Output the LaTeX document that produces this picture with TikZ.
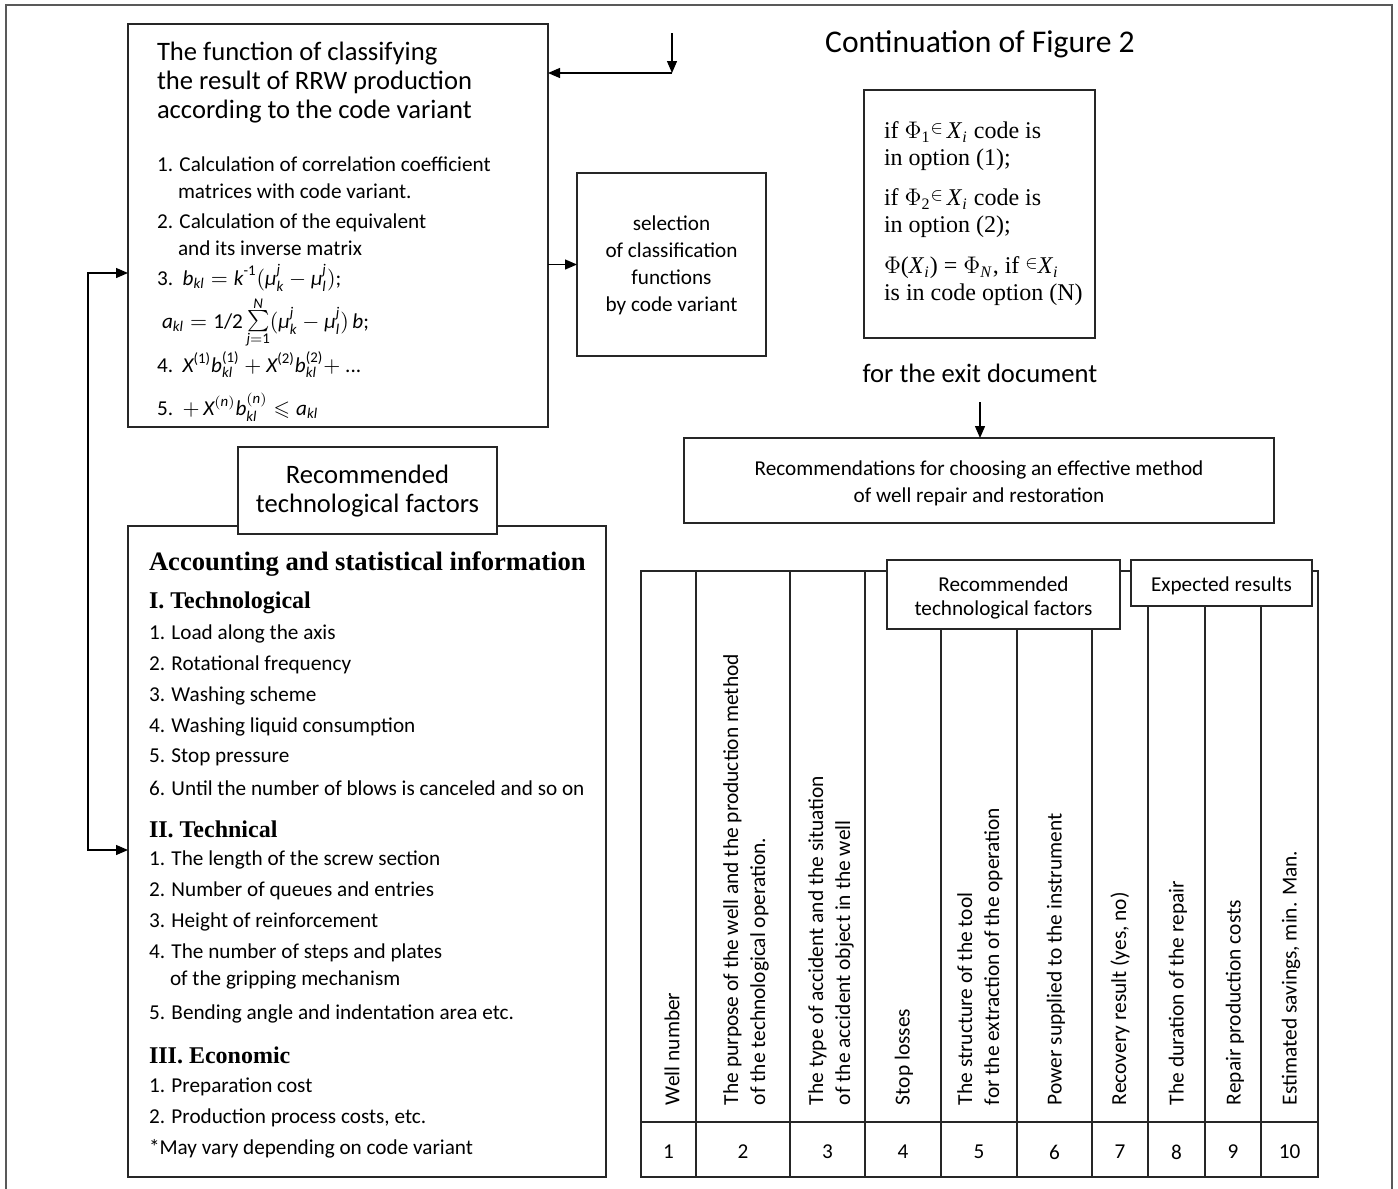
\documentclass[tikz,border=0pt]{standalone}
\usepackage{amsmath,amssymb}
\usepackage{fontspec}
\setmainfont{Carlito}
\newfontfamily\tms{Liberation Serif}
\usetikzlibrary{arrows.meta}
\newcommand\vi[1]{\textit{#1}}
\newcommand\fsz[2]{\fontsize{#1}{#2}\selectfont}
% compact sum with limits stacked tightly
\newcommand\tsum[2]{\mathop{\vcenter{\offinterlineskip\halign{\hfil##\hfil\cr
  $\scriptstyle #2$\cr\noalign{\kern1pt}$\textstyle\sum$\cr\noalign{\kern0.5pt}$\scriptstyle #1$\cr}}}}

\begin{document}
\begin{tikzpicture}[x=0.5pt,y=-0.5pt,
  every node/.style={inner sep=0pt,outer sep=0pt},
  frame/.style={draw=black!85,line width=0.65pt,anchor=north west,fill=white},
  arr/.style={-{Triangle[length=6pt,width=5pt]},line width=0.65pt},
  twoarr/.style={{Triangle[length=6pt,width=5pt]}-{Triangle[length=6pt,width=5pt]},line width=0.65pt},
  big/.style={font=\fsz{13.3}{14.5},yshift=-1pt},
  txt/.style={font=\fsz{10.6}{13.5},yshift=-1pt},
  serif/.style={font=\tms\fsz{12}{13.5},yshift=-1pt},
  hd/.style={font=\tms\bfseries\fsz{13.3}{15},yshift=-1pt},
  sub/.style={font=\tms\bfseries\fsz{12}{14},yshift=-1pt},
  col/.style={font=\fsz{10.7}{13.5},rotate=90,anchor=west,align=left},
  grid/.style={draw=black!85,line width=0.6pt}]
\useasboundingbox (0,0) rectangle (1398,1189);

% page frame, open at the bottom
\draw[draw=black!65,line width=0.9pt] (6,1189) -- (6,5) -- (1392,5) -- (1392,1189);

% classification function block
\node[frame,minimum width=210pt,minimum height=201.5pt] (fc) at (128,24) {};
\node[big,anchor=west,align=left] (fchead) at (157,81)
  {The function of classifying\\the result of RRW production\\according to the code variant};
\node[txt,anchor=west,align=left] (fc1) at (157,176)
  {1. Calculation of correlation coefficient\\\hspace*{10.5pt}matrices with code variant.};
\node[txt,anchor=west,align=left] (fc2) at (157,233)
  {2. Calculation of the equivalent\\\hspace*{10.5pt}and its inverse matrix};
\node[txt,anchor=base west] (fc3) at (157,283)
  {\vtop{\baselineskip=21.5pt\lineskiplimit=-\maxdimen
   \hbox{3.\ \ $\vi{b}_{\vi{kl}} = \vi{k}^{\text{-1}}(\vi{μ}_{\vi{k}}^{\vi{j}} - \vi{μ}_{\vi{l}}^{\vi{j}})$;}
   \hbox{\hspace*{2.5pt}$\vi{a}_{\vi{kl}} = \text{1/2}\tsum{\vi{j}=\text{1}}{\vi{N}}(\vi{μ}_{\vi{k}}^{\vi{j}} - \vi{μ}_{\vi{l}}^{\vi{j}})\,\vi{b}$;}}};
\node[txt,anchor=base west] (fc4) at (157,370)
  {4.\ \ $\vi{X}^{\text{(1)}}\vi{b}_{\vi{kl}}^{\text{(1)}} + \vi{X}^{\text{(2)}}\vi{b}_{\vi{kl}}^{\text{(2)}} +$ ...};
\node[txt,anchor=base west] (fc5) at (157,413)
  {5.\ \ $+\,\vi{X}^{(\vi{n})}\vi{b}_{\vi{kl}}^{(\vi{n})} \leqslant \vi{a}_{\vi{kl}}$};

% incoming flow at the top
\coordinate (topin) at (672,33);
\coordinate (topbend) at (672,73);
\draw[arr] (topin) -- (topbend);
\draw[arr] (topbend) -- (fc.east |- topbend);

% selection block
\node[frame,minimum width=94.5pt,minimum height=91.5pt] (sel) at (577,173) {};
\node[txt,align=center] (seltext) at (671.5,263.5)
  {selection\\of classification\\functions\\by code variant};
\draw[arr] (fc.east |- sel.west) -- (sel.west);

% title
\node[font=\fsz{15.8}{18},yshift=-1pt] (title) at (980,42) {Continuation of Figure 2};

% decision rules
\node[frame,minimum width=115.5pt,minimum height=124pt] (rules) at (864,90) {};
\node[serif,anchor=west,align=left] (r1) at (884,144.5)
  {if $\Phi$\textsubscript{1}\raisebox{2.5pt}{\fsz{9}{9}$\in$}\,\vi{X}\textsubscript{\vi{i}} code is\\in option (1);};
\node[serif,anchor=west,align=left] (r2) at (884,211.5)
  {if $\Phi$\textsubscript{2}\raisebox{2.5pt}{\fsz{9}{9}$\in$}\,\vi{X}\textsubscript{\vi{i}} code is\\in option (2);};
\node[serif,anchor=west,align=left] (r3) at (884,279.5)
  {$\Phi$(\vi{X}\textsubscript{\vi{i}}) = $\Phi$\textsubscript{\vi{N}}, if \raisebox{2.5pt}{\fsz{9}{9}$\in$}\vi{X}\textsubscript{\vi{i}}\\is in code option (N)};

% exit document and recommendations
\node[big] (exitdoc) at (980,371) {for the exit document};
\node[frame,minimum width=295pt,minimum height=42.5pt] (recm) at (684,438) {};
\node[txt,align=center] (recmtext) at (979,481.5)
  {Recommendations for choosing an effective method\\of well repair and restoration};
\coordinate (exitout) at (980,402);
\draw[arr] (exitout) -- (recm.north -| exitout);

% accounting and statistical information
\node[frame,minimum width=239pt,minimum height=325.5pt] (acc) at (128,526) {};
\node[frame,minimum width=129.5pt,minimum height=43.5pt] (factors) at (238,447) {};
\node[big,align=center] (factorstext) at (367.5,489.5) {Recommended\\technological factors};
\node[hd,anchor=west] (acchead) at (149,562) {Accounting and statistical information};
\node[sub,anchor=west] (s1) at (149,601) {I. Technological};
\node[txt,anchor=west] (s1a) at (149,632) {1. Load along the axis};
\node[txt,anchor=west] (s1b) at (149,663) {2. Rotational frequency};
\node[txt,anchor=west] (s1c) at (149,694) {3. Washing scheme};
\node[txt,anchor=west] (s1d) at (149,725) {4. Washing liquid consumption};
\node[txt,anchor=west] (s1e) at (149,755) {5. Stop pressure};
\node[txt,anchor=west] (s1f) at (149,786) {6. Until the number of blows is canceled and so on};
\node[sub,anchor=west] (s2) at (149,827) {II. Technical};
\node[txt,anchor=west] (s2a) at (149,858) {1. The length of the screw section};
\node[txt,anchor=west] (s2b) at (149,889) {2. Number of queues and entries};
\node[txt,anchor=west] (s2c) at (149,920) {3. Height of reinforcement};
\node[txt,anchor=west,align=left] (s2d) at (149,964.5)
  {4. The number of steps and plates\\\hspace*{10.5pt}of the gripping mechanism};
\node[txt,anchor=west] (s2e) at (149,1012) {5. Bending angle and indentation area etc.};
\node[sub,anchor=west] (s3) at (149,1053) {III. Economic};
\node[txt,anchor=west] (s3a) at (149,1085) {1. Preparation cost};
\node[txt,anchor=west] (s3b) at (149,1116) {2. Production process costs, etc.};
\node[txt,anchor=west] (s3c) at (149,1147) {*May vary depending on code variant};

% feedback link between the two left blocks
\coordinate (lk1) at (88,273);
\coordinate (lk2) at (88,850);
\draw[twoarr] (fc.west |- lk1) -- (lk1) -- (lk2) -- (acc.west |- lk2);

% results table
\draw[grid] (641,571) rectangle (1318,1177);
\draw[grid] (641,1122) -- (1318,1122);
\foreach \cx in {696,790,865} \draw[grid] (\cx,571) -- (\cx,1177);
\foreach \cx in {941,1017,1092} \draw[grid] (\cx,629) -- (\cx,1177);
\foreach \cx in {1148,1205,1261} \draw[grid] (\cx,606) -- (\cx,1177);
\node[frame,minimum width=116.5pt,minimum height=34.5pt] (tfact) at (887,560) {};
\node[txt,align=center,font=\fsz{10.6}{12}] (tfacttext) at (1003.5,596) {Recommended\\technological factors};
\node[frame,minimum width=90.5pt,minimum height=23pt] (tres) at (1131,560) {};
\node[txt] (trestext) at (1221.5,584) {Expected results};

\node[col] (c1) at (672,1105) {Well number};
\node[col] (c2) at (746,1105) {The purpose of the well and the production method\\of the technological operation.};
\node[col] (c3) at (831,1105) {The type of accident and the situation\\of the accident object in the well};
\node[col] (c4) at (904,1105) {Stop losses};
\node[col] (c5) at (980,1105) {The structure of the tool\\for the extraction of the operation};
\node[col] (c6) at (1056,1105) {Power supplied to the instrument};
\node[col] (c7) at (1120,1105) {Recovery result (yes, no)};
\node[col] (c8) at (1178,1105) {The duration of the repair};
\node[col] (c9) at (1235,1105) {Repair production costs};
\node[col] (c10) at (1291,1105) {Estimated savings, min. Man.};

\foreach \n/\cx in {1/668.5,2/743,3/827.5,4/903,5/979,6/1054.5,7/1120,8/1176.5,9/1233,10/1289.5}
  \node[txt] (n\n) at (\cx,1150) {\n};
\end{tikzpicture}
\end{document}
